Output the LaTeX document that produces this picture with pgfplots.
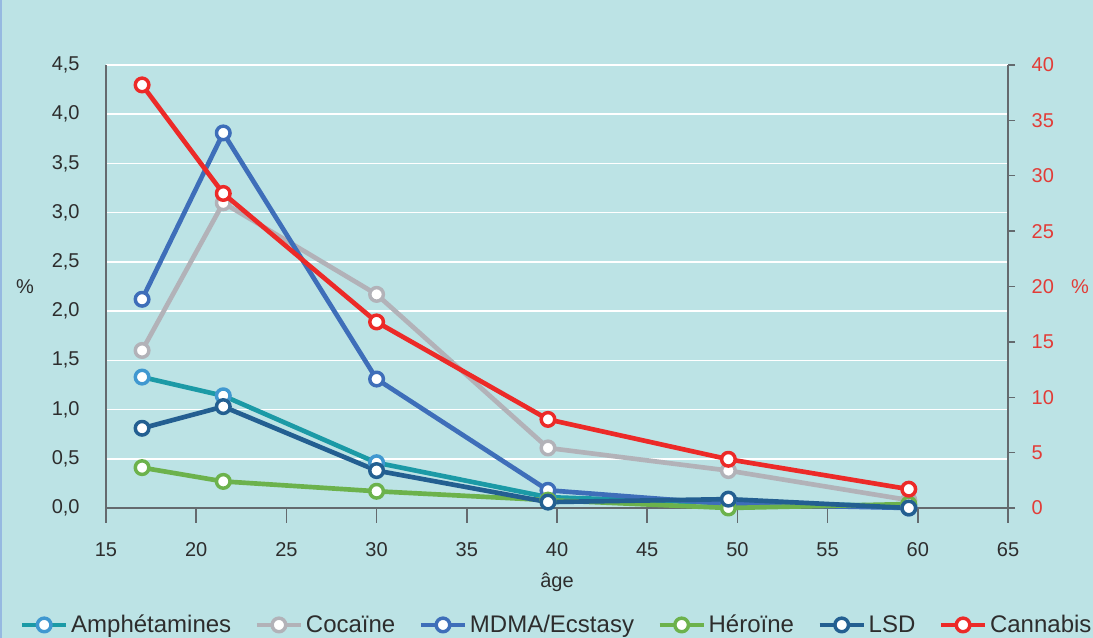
\documentclass[border=0pt]{standalone}
\usepackage{pgfplots}
\pgfplotsset{compat=1.18}
\usepackage{fontspec}
\setmainfont{Liberation Sans}
\definecolor{bgc}{RGB}{188,227,229}
\definecolor{axc}{RGB}{100,106,110}
\definecolor{txc}{RGB}{45,45,45}
\definecolor{redc}{RGB}{236,42,40}
\definecolor{redt}{RGB}{226,60,55}
\definecolor{amphl}{RGB}{27,154,166}
\definecolor{amphm}{RGB}{64,152,208}
\definecolor{cocc}{RGB}{178,178,184}
\definecolor{mdmac}{RGB}{62,110,185}
\definecolor{herc}{RGB}{108,178,76}
\definecolor{lsdc}{RGB}{35,95,145}
\begin{document}
\begin{tikzpicture}
\fill[bgc] (0,0) rectangle (819.75pt,478.5pt);
\useasboundingbox (0,0) rectangle (819.75pt,478.5pt);
\draw[color={rgb,255:red,150;green,185;blue,225},line width=1.2pt] (0.6pt,0) -- (0.6pt,478.5pt);
\pgfplotsset{
  every axis plot/.append style={line width=3.5pt, line join=round, mark=*, mark size=5.1pt,
     mark options={fill=white, line width=2.6pt}},
}
\begin{axis}[
  scale only axis, width=676.5pt, height=332.25pt,
  at={(79.5pt,97.5pt)}, anchor=south west,
  xmin=15, xmax=65, ymin=0, ymax=4.5,
  axis x line*=bottom, axis y line*=left,
  axis line style={axc, line width=1.1pt, -},
  xtick={15,20,...,65}, ytick={0,0.5,...,4.5},
  tick align=outside,
  x tick style={axc, line width=1.1pt}, xtick pos=bottom,
  major tick length=11.25pt,
  y tick style={draw=none},
  ymajorgrids, grid style={white, line width=1.1pt},
  tick label style={font=\fontsize{15}{17}\selectfont, text=txc},
  /pgf/number format/assume math mode=true,
  yticklabel style={/pgf/number format/fixed, /pgf/number format/fixed zerofill, /pgf/number format/precision=1, /pgf/number format/use comma, xshift=-5pt},
  xticklabel style={yshift=-11pt},
  xlabel={âge}, xlabel style={font=\fontsize{15}{17}\selectfont, text=txc, at={(axis description cs:0.5,-0.168)}, anchor=center},
  ylabel={\%}, ylabel style={font=\fontsize{15}{17}\selectfont, text=txc, rotate=-90, at={(axis description cs:-0.0898,0.5)}, anchor=center},
  legend columns=6,
  legend style={draw=none, fill=none, at={(axis description cs:0.5,-0.264)}, anchor=center,
     font=\fontsize{18}{20}\selectfont, text=txc,
     /tikz/every odd column/.append style={column sep=0pt},
     /tikz/every even column/.append style={column sep=15.5pt}},
  legend image code/.code={\draw[#1, mark repeat=2, mark phase=2] plot coordinates {(0pt,0pt) (16.5pt,0pt) (33pt,0pt)};},
  clip=false,
]
\addplot[amphl, mark options={fill=white, draw=amphm, line width=2.6pt}] coordinates {(17,1.33) (21.5,1.14) (30,0.46) (39.5,0.11) (49.5,0.05) (59.5,0.02)};
\addlegendentry{Amphétamines}
\addplot[cocc] coordinates {(17,1.60) (21.5,3.10) (30,2.17) (39.5,0.61) (49.5,0.38) (59.5,0.08)};
\addlegendentry{Cocaïne}
\addplot[mdmac] coordinates {(17,2.12) (21.5,3.81) (30,1.31) (39.5,0.18) (49.5,0.04) (59.5,0.0)};
\addlegendentry{MDMA/Ecstasy}
\addplot[herc] coordinates {(17,0.41) (21.5,0.27) (30,0.17) (39.5,0.08) (49.5,0.0) (59.5,0.04)};
\addlegendentry{Héroïne}
\addplot[lsdc] coordinates {(17,0.81) (21.5,1.03) (30,0.38) (39.5,0.06) (49.5,0.09) (59.5,0.0)};
\addlegendentry{LSD}
\addlegendimage{redc}
\addlegendentry{Cannabis}
\end{axis}
\begin{axis}[
  scale only axis, width=676.5pt, height=332.25pt,
  at={(79.5pt,97.5pt)}, anchor=south west,
  xmin=15, xmax=65, ymin=0, ymax=40,
  axis x line=none, axis y line*=right,
  axis line style={axc, line width=1.1pt, -},
  ytick={0,5,...,40},
  tick align=outside, major tick length=5.25pt,
  y tick style={axc, line width=1.1pt},
  tick label style={font=\fontsize{15}{17}\selectfont, text=redt},
  /pgf/number format/assume math mode=true,
  yticklabel style={xshift=9pt},
  ylabel={\%}, ylabel style={font=\fontsize{15}{17}\selectfont, text=redt, rotate=-90, at={(axis description cs:1.0798,0.5)}, anchor=center},
  clip=false,
]
\addplot[redc] coordinates {(17,38.2) (21.5,28.4) (30,16.8) (39.5,8.0) (49.5,4.4) (59.5,1.7)};
\end{axis}
\end{tikzpicture}
\end{document}
